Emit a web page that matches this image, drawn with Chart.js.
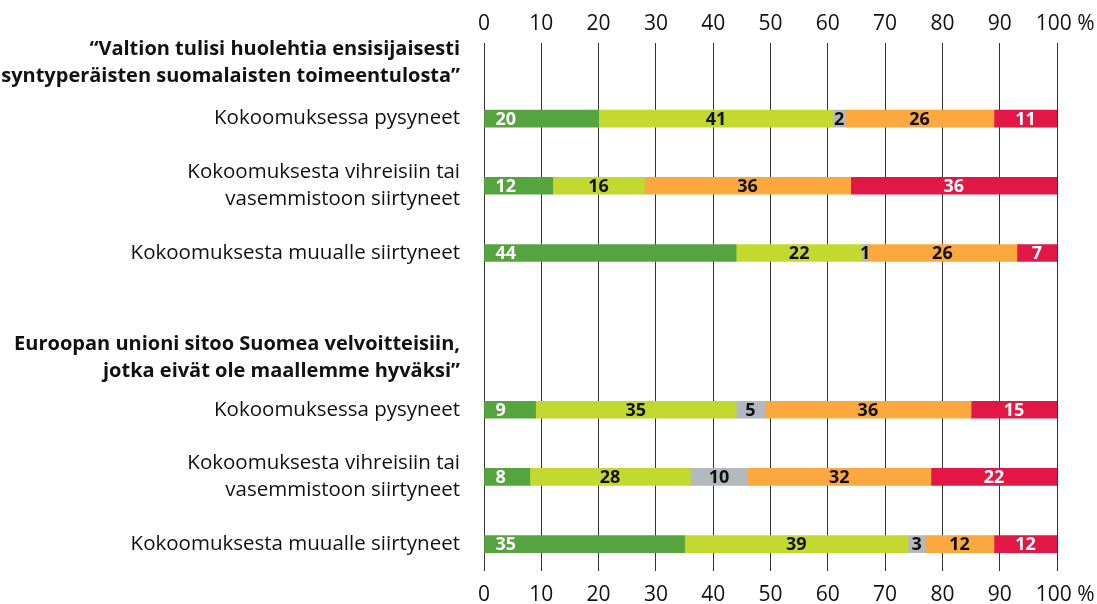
<!DOCTYPE html>
<html>
<head>
<meta charset="utf-8">
<script src="https://cdn.jsdelivr.net/npm/chart.js@4"></script>
<style>
  html, body { margin: 0; padding: 0; background: #fff; }
  #wrap { width: 1097px; height: 604px; position: relative; }
</style>
</head>
<body>
<div id="wrap"><canvas id="chart"></canvas></div>
<script>
// y axis rows: two statement headers, each followed by three voter groups
const ROW_LABELS = [
  ['“Valtion tulisi huolehtia ensisijaisesti', 'syntyperäisten suomalaisten toimeentulosta”'],
  'Kokoomuksessa pysyneet',
  ['Kokoomuksesta vihreisiin tai', 'vasemmistoon siirtyneet'],
  'Kokoomuksesta muualle siirtyneet',
  ['Euroopan unioni sitoo Suomea velvoitteisiin,', 'jotka eivät ole maallemme hyväksi”'],
  'Kokoomuksessa pysyneet',
  ['Kokoomuksesta vihreisiin tai', 'vasemmistoon siirtyneet'],
  'Kokoomuksesta muualle siirtyneet',
];
const HEADER_ROWS = [0, 4];
const BAR_ROWS = [1, 2, 3, 5, 6, 7];
// slot of each row on the y axis (gap before the 2nd header is wider)
const ROW_SLOTS = [0, 5, 11, 17, 26.4, 31, 37, 43];

// percentages, one value per bar row
const SERIES_1 = [20, 12, 44, 9, 8, 35];
const SERIES_2 = [41, 16, 22, 35, 28, 39];
const SERIES_3 = [2, 0, 1, 5, 10, 3];
const SERIES_4 = [26, 36, 26, 36, 32, 12];
const SERIES_5 = [11, 36, 7, 15, 22, 12];

const X_TICKS = [0, 10, 20, 30, 40, 50, 60, 70, 80, 90, 100];

const COLORS = ['#55a440', '#c3d92f', '#b3b9bf', '#fba93f', '#e31746'];
const LABEL_COLORS = ['#ffffff', '#111111', '#111111', '#111111', '#ffffff'];
const FONT = '"Open Sans", "Noto Sans", sans-serif';

function toPoints(values) {
  return values.map((v, i) => ({ x: v, y: ROW_SLOTS[BAR_ROWS[i]] }));
}

const barLabels = {
  id: 'barLabels',
  afterDatasetsDraw(chart) {
    const ctx = chart.ctx;
    const area = chart.chartArea;
    ctx.save();
    ctx.font = 'bold 18px ' + FONT;
    ctx.textBaseline = 'middle';
    chart.data.datasets.forEach((ds, di) => {
      chart.getDatasetMeta(di).data.forEach((bar, i) => {
        const v = ds.data[i].x;
        if (!v) return;
        const { x, base, y } = bar.getProps(['x', 'base', 'y'], true);
        const right = Math.min(x, area.right);
        ctx.fillStyle = LABEL_COLORS[di];
        if (di === 0) {
          ctx.textAlign = 'left';
          ctx.fillText(String(v), base + 11, y + 1);
        } else {
          ctx.textAlign = 'center';
          ctx.fillText(String(v), (base + right) / 2, y + 1);
        }
      });
    });
    ctx.restore();
  }
};

const xFont = { family: FONT, size: 21 };
// leading spaces nudge "100" over its gridline, the "%" hangs to the right
const pctLabel = (v) => (v === 100 ? '   100 %' : String(v));
const fixTicks = (scale) => { scale.ticks = X_TICKS.map(v => ({ value: v })); };
// fixed axis band height, and no label overhang shrinking the plot area
const fitX = (h) => (scale) => {
  scale.height = h;
  scale.paddingLeft = 0;
  scale.paddingRight = 0;
};

const series = [SERIES_1, SERIES_2, SERIES_3, SERIES_4, SERIES_5];

new Chart(document.getElementById('chart'), {
  type: 'bar',
  data: {
    datasets: series.map((s, i) => ({
      data: toPoints(s),
      backgroundColor: COLORS[i],
      borderWidth: 0,
      barThickness: 17,
      stack: 'all',
    })),
  },
  options: {
    indexAxis: 'y',
    responsive: true,
    maintainAspectRatio: false,
    animation: false,
    layout: { padding: { top: 0, right: 40, bottom: 0, left: 0 } },
    plugins: { legend: { display: false }, tooltip: { enabled: false } },
    scales: {
      x: {
        type: 'linear',
        position: 'bottom',
        min: 0,
        max: 100,
        stacked: true,
        afterBuildTicks: fixTicks,
        afterFit: fitX(33),
        grid: { color: '#333', lineWidth: 1, drawTicks: false },
        border: { display: false },
        ticks: { padding: 11, color: '#111', font: xFont, callback: pctLabel,
                 maxRotation: 0, minRotation: 0, autoSkip: false },
      },
      x2: {
        type: 'linear',
        position: 'top',
        min: 0,
        max: 100,
        afterBuildTicks: fixTicks,
        afterFit: fitX(43),
        grid: { display: false, drawTicks: false },
        border: { display: false },
        ticks: { padding: 6, color: '#111', font: xFont, callback: pctLabel,
                 maxRotation: 0, minRotation: 0, autoSkip: false },
      },
      y: {
        type: 'linear',
        reverse: true,
        offset: false,
        min: -1.75,
        max: 45.4,
        afterBuildTicks: (scale) => { scale.ticks = ROW_SLOTS.map(v => ({ value: v })); },
        afterFit: (scale) => {
          scale.width = 484;
          scale.paddingTop = 0;
          scale.paddingBottom = 0;
        },
        grid: { display: false, drawTicks: true, tickLength: 24 },
        border: { display: false },
        ticks: {
          padding: 0,
          color: '#111',
          autoSkip: false,
          callback: (v) => {
            const i = ROW_SLOTS.indexOf(v);
            return i < 0 ? '' : ROW_LABELS[i];
          },
          font: (c) => {
            const i = c.tick ? ROW_SLOTS.indexOf(c.tick.value) : -1;
            const head = HEADER_ROWS.includes(i);
            return {
              family: FONT,
              size: head ? 20 : 20.5,
              lineHeight: 27 / (head ? 20 : 20.5),
              weight: head ? 'bold' : 'normal',
            };
          },
        },
      },
    },
  },
  plugins: [barLabels],
});
</script>
</body>
</html>
